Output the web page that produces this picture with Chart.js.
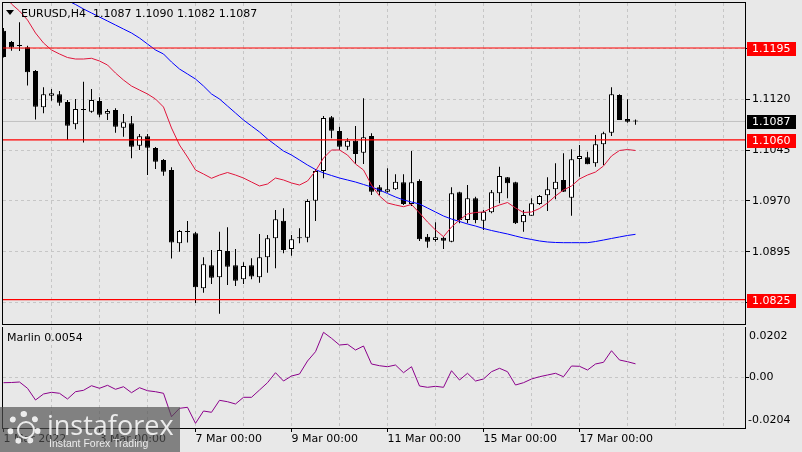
<!DOCTYPE html>
<html>
<head>
<meta charset="utf-8">
<script src="https://cdn.jsdelivr.net/npm/chart.js@4.4.0/dist/chart.umd.min.js"></script>
<style>
  html, body { margin: 0; padding: 0; background: #e8e8e8; }
  #wrap { position: relative; width: 802px; height: 452px; overflow: hidden; background: #e8e8e8; font-family: "DejaVu Sans", sans-serif; }
  canvas { position: absolute; left: 0; }
  #main { top: 0; }
  #osc { top: 327px; }
  .txt { position: absolute; font-size: 11px; line-height: 13px; color: #000; white-space: pre; }
  #tri { position: absolute; left: 6px; top: 10px; width: 0; height: 0; border-left: 4.5px solid transparent; border-right: 4.5px solid transparent; border-top: 5px solid #000; }
  #wm { position: absolute; left: 0; top: 407px; width: 180px; height: 45px; background: rgba(80,80,80,0.68); }
  #wm .gear { position: absolute; left: 7px; top: 4px; width: 22px; height: 22px; border: 6px dotted rgba(255,255,255,0.85); border-radius: 50%; }
  #wm .gear2 { position: absolute; left: 17px; top: 14px; width: 14px; height: 14px; border: 2px solid rgba(255,255,255,0.85); border-radius: 50%; }
  #wm .big { position: absolute; left: 47px; top: 4px; font-family: "Open Sans", sans-serif; font-size: 27px; line-height: 27px; color: rgba(255,255,255,0.85); }
  #wm .small { position: absolute; left: 49px; top: 30px; font-family: "Liberation Sans", sans-serif; font-size: 10.5px; line-height: 12px; color: rgba(255,255,255,0.85); white-space: pre; }
</style>
</head>
<body>
<div id="wrap">
  <canvas id="main" width="802" height="325"></canvas>
  <canvas id="osc" width="802" height="125"></canvas>
  <div id="tri"></div>
  <div class="txt" id="title" style="left:21px; top:7px;"></div>
  <div class="txt" id="oscTitle" style="left:7px; top:331px;"></div>
  <div id="wm">
    <div class="gear"></div>
    <div class="gear2"></div>
    <div class="big">instaforex</div>
    <div class="small">Instant Forex Trading</div>
  </div>
</div>
<script>
// EURUSD H4 candles, 1 Mar 00:00 .. 18 Mar 04:00 (80 bars)
const barOpen = [1.12204,1.12038,1.11979,1.11960,1.11612,1.11078,1.11249,1.11269,1.11156,1.10828,
  1.11038,1.11013,1.11171,1.10984,1.11038,1.10778,1.10843,1.10513,1.10651,1.10479,
  1.10303,1.10156,1.09078,1.09244,1.09225,1.08416,1.08755,1.08578,1.08965,1.08755,
  1.08549,1.08755,1.08578,1.08872,1.09151,1.09410,1.08994,1.09151,1.09160,1.09704,
  1.10141,1.10931,1.10729,1.10499,1.10587,1.10410,1.10656,1.09901,1.09837,1.09872,
  1.09975,1.09656,1.09994,1.09175,1.09126,1.09160,1.09101,1.09828,1.09421,1.09740,
  1.09410,1.09534,1.09813,1.10049,1.09975,1.09387,1.09484,1.09656,1.09784,1.09872,
  1.10009,1.09749,1.10318,1.10343,1.10254,1.10534,1.10704,1.11259,1.10906,1.10870];
const barHigh = [1.12244,1.12053,1.12328,1.11984,1.11626,1.11372,1.11347,1.11318,1.11185,1.11200,
  1.11454,1.11347,1.11225,1.11053,1.11063,1.10979,1.10950,1.10685,1.10685,1.10494,
  1.10318,1.10196,1.09274,1.09406,1.09244,1.08872,1.08979,1.09249,1.09313,1.08994,
  1.08799,1.08857,1.09215,1.09200,1.09568,1.09593,1.09200,1.09298,1.09725,1.10171,
  1.10950,1.10950,1.10793,1.10622,1.10803,1.11210,1.10696,1.09935,1.10181,1.10093,
  1.10093,1.10435,1.10019,1.09215,1.09386,1.09175,1.09901,1.09837,1.09935,1.09763,
  1.09568,1.09862,1.10204,1.10053,1.09984,1.09568,1.09740,1.09788,1.10049,1.10254,
  1.10401,1.10460,1.10524,1.10425,1.10671,1.10719,1.11372,1.11269,1.11196,1.10900];
const barLow = [1.11809,1.11910,1.11906,1.11398,1.10899,1.10990,1.11175,1.11101,1.10597,1.10755,
  1.10560,1.10999,1.10931,1.10891,1.10704,1.10646,1.10328,1.10450,1.10082,1.10171,
  1.10072,1.08855,1.08955,1.09090,1.08200,1.08351,1.08479,1.08043,1.08465,1.08450,
  1.08479,1.08549,1.08499,1.08646,1.08710,1.08931,1.08896,1.09078,1.09093,1.09406,
  1.10034,1.10622,1.10450,1.10450,1.10244,1.10244,1.09788,1.09788,1.09822,1.09862,
  1.09641,1.09627,1.09112,1.09013,1.09101,1.08994,1.09093,1.09372,1.09372,1.09372,
  1.09274,1.09519,1.09666,1.09740,1.09360,1.09249,1.09484,1.09641,1.09553,1.09725,
  1.09832,1.09484,1.10057,1.10240,1.10204,1.10230,1.10656,1.10891,1.10851,1.10820];
const barClose = [1.11819,1.11957,1.11979,1.11593,1.11087,1.11269,1.11284,1.11146,1.10807,1.11053,
  1.11038,1.11185,1.10969,1.11024,1.10793,1.10857,1.10499,1.10651,1.10484,1.10278,
  1.10131,1.09090,1.09259,1.09244,1.08431,1.08769,1.08572,1.08979,1.08734,1.08528,
  1.08744,1.08588,1.08872,1.09151,1.09431,1.08979,1.09137,1.09151,1.09700,1.10141,
  1.10921,1.10734,1.10499,1.10587,1.10391,1.10637,1.09837,1.09837,1.09872,1.09984,
  1.09656,1.09975,1.09137,1.09101,1.09166,1.09116,1.09813,1.09421,1.09740,1.09421,
  1.09543,1.09828,1.10068,1.09960,1.09372,1.09494,1.09666,1.09774,1.09872,1.09984,
  1.09837,1.10313,1.10362,1.10240,1.10534,1.10696,1.11269,1.10891,1.10866,1.10870];

// moving averages (red = fast, blue = slow)
const maFast = [1.12774,1.12597,1.12494,1.12362,1.12171,1.12024,1.11921,1.11862,1.11810,1.11788,
  1.11788,1.11799,1.11759,1.11700,1.11582,1.11479,1.11391,1.11332,1.11274,1.11200,
  1.11082,1.10774,1.10524,1.10347,1.10156,1.10097,1.10034,1.10082,1.10119,1.10082,
  1.10038,1.09979,1.09921,1.09950,1.10038,1.10009,1.09965,1.09935,1.09994,1.10141,
  1.10332,1.10450,1.10450,1.10376,1.10244,1.10156,1.09935,1.09774,1.09671,1.09641,
  1.09616,1.09649,1.09524,1.09391,1.09274,1.09175,1.09318,1.09421,1.09509,1.09531,
  1.09538,1.09597,1.09641,1.09678,1.09597,1.09531,1.09538,1.09590,1.09671,1.09774,
  1.09862,1.09921,1.10024,1.10082,1.10126,1.10215,1.10362,1.10443,1.10457,1.10443];
const maSlow = [null,null,null,null,null,null,null,null,1.12649,1.12590,
  1.12524,1.12465,1.12406,1.12347,1.12288,1.12229,1.12171,1.12097,1.12009,1.11921,
  1.11862,1.11744,1.11641,1.11568,1.11494,1.11391,1.11274,1.11200,1.11097,1.10994,
  1.10891,1.10803,1.10715,1.10612,1.10524,1.10435,1.10376,1.10303,1.10229,1.10163,
  1.10112,1.10075,1.10038,1.10009,1.09979,1.09943,1.09906,1.09862,1.09810,1.09759,
  1.09715,1.09685,1.09656,1.09597,1.09538,1.09479,1.09435,1.09399,1.09362,1.09332,
  1.09296,1.09266,1.09240,1.09215,1.09185,1.09156,1.09134,1.09112,1.09097,1.09090,
  1.09087,1.09087,1.09087,1.09087,1.09104,1.09126,1.09149,1.09171,1.09193,1.09210];

// Marlin oscillator
const marlin = [-0.00219,-0.00211,-0.00191,-0.00444,-0.00915,-0.00673,-0.00605,-0.00645,-0.00874,-0.00581,
  -0.00525,-0.00340,-0.00444,-0.00324,-0.00484,-0.00380,-0.00621,-0.00420,-0.00541,-0.00581,
  -0.00645,-0.01586,-0.01248,-0.01208,-0.01851,-0.01357,-0.01409,-0.00927,-0.00983,-0.01075,
  -0.00806,-0.00806,-0.00513,-0.00219,0.00183,-0.00151,0.00050,0.00131,0.00653,0.01027,
  0.01807,0.01566,0.01296,0.01325,0.01095,0.01256,0.00533,0.00464,0.00424,0.00492,
  0.00183,0.00424,-0.00352,-0.00404,-0.00364,-0.00404,0.00263,-0.00111,0.00159,-0.00151,
  -0.00070,0.00223,0.00360,0.00223,-0.00312,-0.00219,-0.00070,0.00022,0.00090,0.00159,
  0.00022,0.00452,0.00440,0.00291,0.00533,0.00601,0.01067,0.00693,0.00625,0.00540];

const levelPrices = [1.1195, 1.1060, 1.0825];
const lastPrice = 1.1087;
const lastBar = [1.1087, 1.1090, 1.1082, 1.1087];
const priceGrid = [1.1195, 1.1120, 1.1045, 1.0970, 1.0895, 1.0820];
const priceRange = [1.07891, 1.12612];
const oscRange = [-0.0204, 0.0202];
const oscGrid = [0];
const barRange = [-0.0625, 92.8125];
const dayStarts = [0, 6, 12, 18, 24, 30, 36, 42, 48, 54, 60, 66, 72, 78, 84, 90];
const dateTicks = [0, 12, 24, 36, 48, 60, 72];
const dateLabels = ['1 Mar 2022', '3 Mar 00:00', '7 Mar 00:00', '9 Mar 00:00', '11 Mar 00:00', '15 Mar 00:00', '17 Mar 00:00'];

document.getElementById('title').textContent = 'EURUSD,H4  ' + lastBar.map(v => v.toFixed(4)).join(' ');
document.getElementById('oscTitle').textContent = 'Marlin ' + marlin[marlin.length - 1].toFixed(4);

Chart.defaults.font.family = '"DejaVu Sans", sans-serif';
Chart.defaults.font.size = 11;
Chart.defaults.color = '#000';

const gridColor = '#c6c6c6';

//the axes want room for half a label at the ends, we don't
function noEdgePadding(s) {
  s.paddingTop = 0;
  s.paddingBottom = 0;
  s.paddingLeft = 0;
  s.paddingRight = 0;
}

//box round each panel
const panelFrame = {
  id: 'panelFrame',
  afterDraw(chart) {
    const a = chart.chartArea, ctx = chart.ctx;
    ctx.save();
    ctx.strokeStyle = '#000';
    ctx.lineWidth = 1;
    ctx.strokeRect(a.left - 0.5, a.top - 0.5, a.right - a.left, a.bottom - a.top + 1);
    ctx.restore();
  }
};

//coloured price tags on the right axis
const priceTags = {
  id: 'priceTags',
  afterDraw(chart) {
    const ys = chart.scales.y, ctx = chart.ctx, x0 = chart.chartArea.right + 1;
    const tags = levelPrices.map(v => ({ v: v, c: '#ff0000' })).concat([{ v: lastPrice, c: '#000' }]);
    ctx.save();
    ctx.font = '11px "DejaVu Sans"';
    ctx.textBaseline = 'middle';
    tags.forEach(t => {
      const py = Math.round(ys.getPixelForValue(t.v));
      ctx.fillStyle = t.c;
      ctx.fillRect(x0, py - 6, 49, 14);
      ctx.fillStyle = '#fff';
      ctx.fillText(t.v.toFixed(4), x0 + 5, py + 1);
    });
    ctx.restore();
  }
};

//min / max labels of the indicator window, MT4 puts them inside the edges
const oscEdgeLabels = {
  id: 'oscEdgeLabels',
  afterDraw(chart) {
    const a = chart.chartArea, ctx = chart.ctx;
    ctx.save();
    ctx.font = '11px "DejaVu Sans"';
    ctx.fillStyle = '#000';
    ctx.textBaseline = 'middle';
    ctx.fillText(oscRange[1].toFixed(4), a.right + 3, a.top + 9);
    ctx.fillText(oscRange[0].toFixed(4), a.right + 2, a.bottom - 8);
    ctx.restore();
  }
};

function hLine(v) {
  return [{ x: barRange[0], y: v }, { x: barRange[1], y: v }];
}

const bodyData = barOpen.map((o, i) => ({ x: i, y: [o, barClose[i]] }));
const wickData = barOpen.map((o, i) => ({ x: i, y: [barLow[i], barHigh[i]] }));
const bodyFill = barOpen.map((o, i) => barClose[i] > o ? '#ffffff' : '#000000');

const datasets = [
  {
    type: 'bar', data: bodyData, order: 5,
    backgroundColor: bodyFill, borderColor: '#000', borderWidth: 1, borderSkipped: false,
    barThickness: 5, minBarLength: 1, grouped: false, inflateAmount: 0
  },
  {
    type: 'bar', data: wickData, order: 6,
    backgroundColor: '#000', borderWidth: 0, barThickness: 1, grouped: false, inflateAmount: 0
  },
  {
    type: 'line', data: maFast.map((v, i) => ({ x: i, y: v })), order: 2,
    borderColor: '#e0163c', borderWidth: 1, pointRadius: 0, tension: 0
  },
  {
    type: 'line', data: maSlow.map((v, i) => ({ x: i, y: v })), order: 3,
    borderColor: '#0000ff', borderWidth: 1, pointRadius: 0, tension: 0
  },
  {
    type: 'line', data: hLine(lastPrice), order: 9,
    borderColor: '#c0c0c0', borderWidth: 1, pointRadius: 0
  }
];
levelPrices.forEach(v => {
  datasets.push({ type: 'line', data: hLine(v), order: 1, borderColor: '#ff0000', borderWidth: 1.2, pointRadius: 0 });
});

const mainChart = new Chart(document.getElementById('main'), {
  type: 'bar',
  data: { datasets: datasets },
  options: {
    responsive: false,
    animation: false,
    devicePixelRatio: 1,
    events: [],
    layout: { padding: { left: 3, top: 3, right: 0, bottom: 1 } },
    plugins: { legend: { display: false }, tooltip: { enabled: false } },
    scales: {
      x: {
        type: 'linear', min: barRange[0], max: barRange[1], offset: false,
        grid: { color: c => c.tick && c.tick.value === 0 ? 'rgba(0,0,0,0)' : gridColor, offset: false, drawTicks: false },
        border: { display: false, dash: [3, 3] },
        ticks: { display: false },
        afterBuildTicks: s => { s.ticks = dayStarts.map(v => ({ value: v })); },
        afterFit: s => { s.height = 0; noEdgePadding(s); }
      },
      y: {
        position: 'right', min: priceRange[0], max: priceRange[1], beginAtZero: false,
        grid: { color: gridColor, tickColor: '#000', tickLength: 4, tickBorderDash: [] },
        border: { display: false, dash: [3, 3] },
        ticks: { padding: 2, callback: v => v.toFixed(4) },
        afterBuildTicks: s => { s.ticks = priceGrid.map(v => ({ value: v })); },
        afterFit: s => { s.width = 56; noEdgePadding(s); }
      }
    }
  },
  plugins: [panelFrame, priceTags]
});

const oscChart = new Chart(document.getElementById('osc'), {
  type: 'line',
  data: {
    datasets: [{
      data: marlin.map((v, i) => ({ x: i, y: v })),
      borderColor: '#8b008b', borderWidth: 1, pointRadius: 0, tension: 0
    }]
  },
  options: {
    responsive: false,
    animation: false,
    devicePixelRatio: 1,
    events: [],
    layout: { padding: { left: 3, top: 0, right: 0, bottom: 0 } },
    plugins: { legend: { display: false }, tooltip: { enabled: false } },
    scales: {
      x: {
        type: 'linear', min: barRange[0], max: barRange[1], offset: false,
        grid: {
          color: c => c.tick && c.tick.value === 0 ? 'rgba(0,0,0,0)' : gridColor,
          tickColor: c => c.tick && dateTicks.includes(c.tick.value) ? '#000' : 'rgba(0,0,0,0)',
          tickLength: 4, tickBorderDash: [], offset: false
        },
        border: { display: false, dash: [3, 3] },
        ticks: {
          align: 'start', padding: 1, maxRotation: 0, autoSkip: false,
          callback: v => { const k = dateTicks.indexOf(v); return k >= 0 ? dateLabels[k] : ''; }
        },
        afterBuildTicks: s => { s.ticks = dayStarts.map(v => ({ value: v })); },
        afterFit: s => { s.height = 24; noEdgePadding(s); }
      },
      y: {
        position: 'right', min: oscRange[0], max: oscRange[1], beginAtZero: false,
        grid: { color: gridColor, tickColor: '#000', tickLength: 3, tickBorderDash: [] },
        border: { display: false, dash: [3, 3] },
        ticks: { padding: 0, callback: v => v.toFixed(2) },
        afterBuildTicks: s => { s.ticks = oscGrid.map(v => ({ value: v })); },
        afterFit: s => { s.width = 56; noEdgePadding(s); }
      }
    }
  },
  plugins: [panelFrame, oscEdgeLabels]
});
</script>
</body>
</html>
